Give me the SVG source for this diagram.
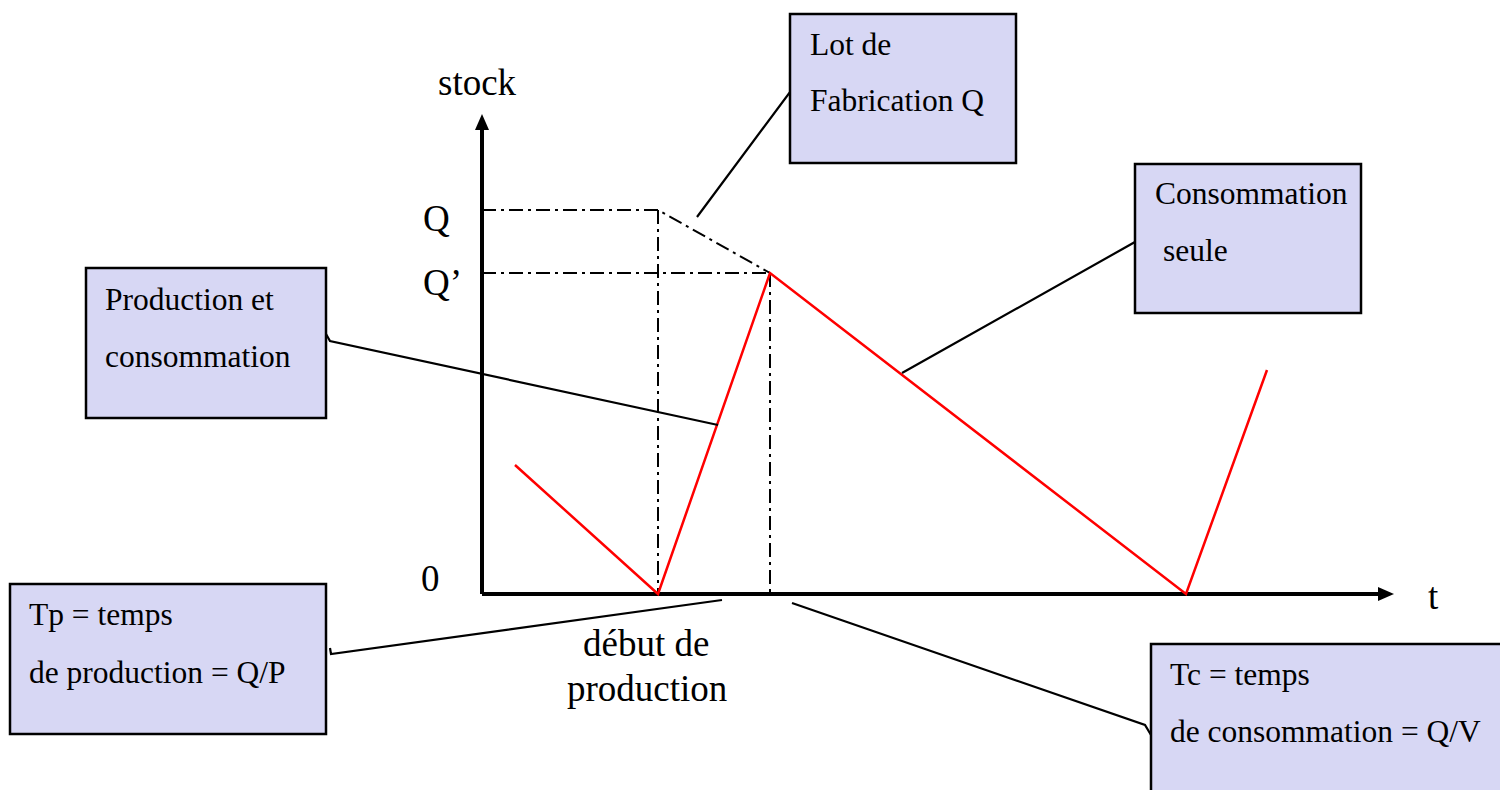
<svg xmlns="http://www.w3.org/2000/svg" width="1500" height="790" viewBox="0 0 1500 790">
<style>
.box{fill:#d7d7f4;stroke:#000;stroke-width:2.5}
.bt{font-family:"Liberation Serif","Times New Roman",serif;font-size:31.5px;fill:#000}
.ax{font-family:"Liberation Serif","Times New Roman",serif;font-size:37px;fill:#000}
.dd{stroke:#000;stroke-width:2;fill:none;stroke-dasharray:14 5 3 5}
.red{stroke:#ff0000;stroke-width:2.5;fill:none}
.con{stroke:#000;stroke-width:2.2;fill:none}
</style>
<rect width="1500" height="790" fill="#fff"/>
<g id="axes">
<line x1="482" y1="594" x2="482" y2="125" stroke="#000" stroke-width="4"/>
<path d="M482,114 L475,130 L489,130 Z" fill="#000"/>
<line x1="482" y1="594" x2="1383" y2="594" stroke="#000" stroke-width="4"/>
<path d="M1394,594 L1378,587 L1378,601 Z" fill="#000"/>
<text class="ax" x="438" y="95">stock</text>
<text class="ax" x="423" y="231">Q</text>
<text class="ax" x="423" y="295">Q’</text>
<text class="ax" x="421" y="591">0</text>
<text class="ax" x="1428" y="609">t</text>
<text class="ax" x="583" y="656">début de</text>
<text class="ax" x="567" y="701">production</text>
</g>
<g id="guides">
<polyline class="dd" points="482,210 658,210 770,273"/>
<line class="dd" x1="482" y1="273" x2="770" y2="273"/>
<line class="dd" x1="658" y1="210" x2="658" y2="594"/>
<line class="dd" x1="770" y1="273" x2="770" y2="594"/>
</g>
<g id="curve">
<polyline class="red" points="515,465 658,594 770,273 1186,594 1267,370"/>
</g>
<g id="connectors">
<path class="con" d="M697,217 L790,92 L795,98"/>
<path class="con" d="M902,373 L1135,242 L1140,248"/>
<path class="con" d="M718,425 L330,341 L326,334"/>
<path class="con" d="M722,600 L331,654 L330,648"/>
<path class="con" d="M792,603 L1145,725 L1151,735"/>
</g>
<g id="lot">
<rect class="box" x="790" y="14" width="226" height="149"/>
<text class="bt" x="810" y="55">Lot de</text>
<text class="bt" x="810" y="111">Fabrication Q</text>
</g>
<g id="seule">
<rect class="box" x="1135" y="164" width="226" height="149"/>
<text class="bt" x="1155" y="204">Consommation</text>
<text class="bt" x="1163" y="261">seule</text>
</g>
<g id="prodcons">
<rect class="box" x="86" y="268" width="240" height="150"/>
<text class="bt" x="105" y="310">Production et</text>
<text class="bt" x="105" y="367">consommation</text>
</g>
<g id="tp">
<rect class="box" x="10" y="584" width="316" height="150"/>
<text class="bt" x="29" y="625">Tp = temps</text>
<text class="bt" x="29" y="683">de production = Q/P</text>
</g>
<g id="tc">
<rect class="box" x="1151" y="644" width="360" height="160"/>
<text class="bt" x="1170" y="685">Tc = temps</text>
<text class="bt" x="1170" y="742">de consommation = Q/V</text>
</g>
</svg>
